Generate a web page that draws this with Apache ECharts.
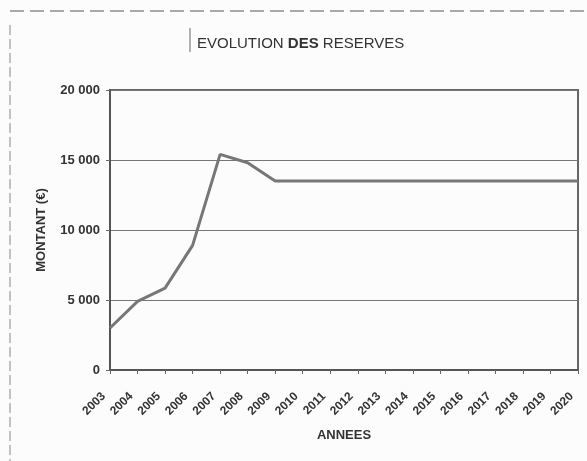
<!DOCTYPE html>
<html>
<head>
<meta charset="utf-8">
<script src="https://cdn.jsdelivr.net/npm/echarts@6/dist/echarts.min.js"></script>
<style>
html,body{margin:0;padding:0;background:#fcfcfc}
#main{width:587px;height:461px}
</style>
</head>
<body>
<div id="main"></div>
<script>
const years = ['2003','2004','2005','2006','2007','2008','2009','2010','2011','2012','2013','2014','2015','2016','2017','2018','2019','2020']
const reserves = [3000, 4900, 5850, 8900, 15400, 14800, 13500, 13500, 13500, 13500, 13500, 13500, 13500, 13500, 13500, 13500, 13500, 13500]
const yTicks = [0, 5000, 10000, 15000, 20000]

const chart = echarts.init(document.getElementById('main'))
const fmt = v => v >= 1000 ? Math.floor(v / 1000) + ' ' + String(v % 1000).padStart(3, '0') : String(v)
const option = {
  backgroundColor: '#fcfcfc',
  animation: false,
  title: {
    text: 'EVOLUTION {b|DES} RESERVES',
    left: 192,
    top: 31,
    textStyle: {
      fontFamily: 'Liberation Sans', fontSize: 15, fontWeight: 'normal', color: '#333',
      rich: {b: {fontFamily: 'Liberation Sans', fontSize: 15, fontWeight: 'bold', color: '#333'}}
    }
  },
  graphic: [
    {type: 'line', shape: {x1: 10, y1: 11, x2: 587, y2: 11}, style: {stroke: '#555', lineWidth: 1, lineDash: [14, 6]}},
    {type: 'line', shape: {x1: 10, y1: 25, x2: 10, y2: 461}, style: {stroke: '#888', lineWidth: 1, lineDash: [10, 4]}},
    {type: 'line', shape: {x1: 190, y1: 28, x2: 190, y2: 52}, style: {stroke: '#666', lineWidth: 1}}
  ],
  grid: {
    left: 110, right: 9, top: 90, bottom: 91,
    show: true, borderColor: '#666', borderWidth: 2, backgroundColor: 'transparent'
  },
  xAxis: {
    type: 'category',
    data: years,
    boundaryGap: false,
    name: 'ANNEES',
    nameLocation: 'middle',
    nameGap: 59,
    nameTextStyle: {fontFamily: 'Liberation Sans', fontWeight: 'bold', fontSize: 13, color: '#333'},
    axisLine: {lineStyle: {color: '#555', width: 2}},
    axisTick: {show: true, inside: false, length: 4, lineStyle: {color: '#666'}},
    axisLabel: {rotate: 45, interval: 0, fontFamily: 'Liberation Sans', fontWeight: 'bold', fontSize: 12, color: '#333', margin: 18, padding: [0, 9, 0, 0]},
    splitLine: {show: false}
  },
  yAxis: {
    type: 'value',
    min: 0, max: 20000, interval: 5000,
    name: 'MONTANT (€)',
    nameLocation: 'middle',
    nameGap: 62,
    nameRotate: 90,
    nameTextStyle: {fontFamily: 'Liberation Sans', fontWeight: 'bold', fontSize: 13, color: '#333'},
    axisLine: {show: true, lineStyle: {color: '#555', width: 2}},
    axisTick: {show: true, length: 4, lineStyle: {color: '#666'}},
    axisLabel: {formatter: v => yTicks.includes(v) ? fmt(v) : '', fontFamily: 'Liberation Sans', fontWeight: 'bold', fontSize: 13, color: '#333', margin: 10},
    splitLine: {show: true, lineStyle: {color: '#777', width: 1}}
  },
  series: [{
    name: 'Réserves',
    type: 'line',
    data: reserves,
    symbol: 'none',
    lineStyle: {color: '#777', width: 3}
  }]
}
chart.setOption(option)
</script>
</body>
</html>
